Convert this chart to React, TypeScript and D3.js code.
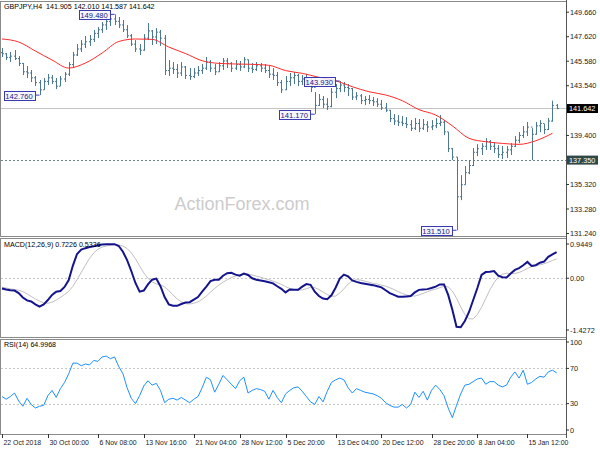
import React from "react";
import * as d3 from "d3";

// GBPJPY H4 bars (open = previous close)
const firstOpen = 146.3;
const high = [
  146.68, 146.26, 146.35, 146.51, 146.01, 145.43, 145.18, 144.85, 144.35, 144.02,
  144.18, 144.52, 144.43, 144.18, 144.35, 144.68, 145.51, 146.35, 147.01, 147.34,
  147.68, 147.76, 148.18, 148.43, 148.84, 149.18, 149.43, 149.48, 149.26, 149.01,
  148.59, 147.84, 147.34, 147.01, 147.84, 148.76, 148.18, 148.34, 148.18, 147.76,
  145.68, 145.51, 145.35, 145.51, 145.18, 145.01, 145.01, 145.18, 145.35, 145.93,
  145.68, 145.35, 145.51, 145.85, 145.85, 145.51, 145.68, 145.6, 145.93, 145.72,
  145.43, 145.51, 145.43, 145.35, 145.18, 145.01, 144.68, 144.02, 144.35, 144.6,
  144.68, 144.52, 144.43, 144.52, 144.25, 143.01, 142.85, 142.68, 142.51, 143.35,
  143.68, 143.93, 143.85, 143.68, 143.35, 143.01, 142.85, 142.68, 142.77, 142.6,
  142.51, 142.35, 142.1, 141.52, 141.18, 141.1, 141.01, 140.93, 140.68, 140.85,
  140.77, 140.77, 140.6, 140.68, 140.85, 141.1, 140.68, 139.68, 138.35, 137.6,
  136.1, 136.85, 137.35, 138.35, 138.68, 138.76, 139.18, 139.02, 138.85, 138.6,
  138.52, 138.52, 138.76, 139.35, 139.68, 140.18, 140.52, 140.01, 140.52, 140.68,
  140.35, 140.85, 142.3, 142.01,
];
const low = [
  145.93, 145.68, 145.51, 145.68, 145.18, 144.43, 144.18, 143.85, 143.51, 142.76,
  143.2, 143.6, 143.68, 143.26, 143.51, 143.85, 144.35, 145.01, 146.01, 146.35,
  146.68, 146.85, 147.18, 147.51, 147.93, 148.18, 148.51, 148.59, 148.34, 148.01,
  147.51, 146.85, 146.35, 146.1, 146.45, 147.34, 146.93, 147.01, 146.85, 144.43,
  144.35, 144.52, 144.18, 144.35, 144.1, 144.02, 144.18, 144.35, 144.52, 144.85,
  144.68, 144.43, 144.68, 144.85, 145.01, 144.68, 144.85, 144.77, 145.01, 144.68,
  144.6, 144.77, 144.68, 144.6, 144.18, 144.02, 143.51, 142.93, 143.18, 143.51,
  143.68, 143.51, 143.6, 143.68, 143.01, 141.17, 141.85, 141.68, 141.52, 141.75,
  142.51, 143.01, 143.01, 142.68, 142.35, 142.35, 142.01, 141.93, 142.01, 141.85,
  141.77, 141.52, 141.35, 140.52, 140.27, 140.18, 140.18, 140.01, 139.77, 139.85,
  139.68, 139.85, 139.68, 139.85, 140.01, 140.18, 139.43, 138.02, 137.35, 131.51,
  134.02, 135.3, 136.18, 136.85, 137.68, 137.77, 138.19, 138.19, 137.93, 137.52,
  137.43, 137.52, 137.77, 138.43, 138.76, 139.18, 139.35, 137.35, 139.45, 139.68,
  139.52, 139.85, 140.55, 141.587,
];
const close = [
  146.2, 145.9, 146.0, 145.8, 145.4, 144.7, 144.6, 144.2, 143.8, 143.2,
  143.9, 144.2, 143.9, 143.5, 144.1, 144.5, 145.3, 146.1, 146.6, 147.0,
  147.2, 147.4, 147.9, 148.2, 148.6, 148.9, 149.1, 148.9, 148.6, 148.2,
  147.7, 147.0, 146.6, 146.5, 147.5, 148.1, 147.6, 148.0, 147.5, 144.8,
  145.0, 144.9, 144.6, 145.1, 144.4, 144.3, 144.6, 144.8, 145.0, 145.5,
  145.0, 144.7, 145.2, 145.6, 145.4, 145.0, 145.3, 145.1, 145.7, 145.0,
  144.9, 145.2, 145.0, 144.8, 144.5, 144.4, 143.8, 143.2, 143.9, 144.2,
  144.4, 143.9, 144.1, 144.2, 143.4, 141.9, 142.4, 142.0, 141.8, 143.0,
  143.3, 143.6, 143.4, 143.3, 142.6, 142.7, 142.3, 142.4, 142.3, 142.2,
  142.0, 141.7, 141.5, 140.8, 140.6, 140.5, 140.4, 140.3, 140.0, 140.4,
  140.0, 140.3, 140.1, 140.2, 140.4, 140.5, 139.7, 138.3, 137.6, 134.3,
  135.3, 136.3, 136.9, 138.0, 138.3, 138.5, 138.9, 138.5, 138.3, 137.8,
  138.0, 138.2, 138.5, 139.0, 139.4, 139.7, 140.1, 139.5, 140.2, 140.4,
  139.9, 140.6, 141.905, 141.642,
];

// red moving average, sampled every 4th bar
const maStep = 4;
const maValues = [
  147.43, 147.18, 146.43, 145.68, 145.01, 145.43, 146.26, 147.22, 147.43, 147.4,
  146.76, 146.22, 145.62, 145.4, 145.35, 145.32, 145.24, 144.8, 144.57, 144.24,
  143.96, 143.46, 143.04, 142.77, 142.29, 141.55, 141.1, 140.2, 139.16, 138.88,
  138.74, 138.66, 138.96, 139.58,
];

const macdMain = [
  -0.28, -0.31, -0.33, -0.34, -0.41, -0.53, -0.61, -0.64, -0.72, -0.78,
  -0.72, -0.6, -0.46, -0.37, -0.35, -0.24, -0.05, 0.35, 0.67, 0.79,
  0.83, 0.86, 0.88, 0.91, 0.93, 0.94, 0.94, 0.94, 0.89, 0.73,
  0.5, 0.2, -0.13, -0.37, -0.34, -0.17, -0.04, -0.01, -0.22, -0.52,
  -0.72, -0.76, -0.76, -0.71, -0.67, -0.66, -0.59, -0.52, -0.37, -0.23,
  -0.08, -0.04, -0.04, 0.07, 0.14, 0.15, 0.1, 0.07, 0.13, 0.09,
  0.0, -0.04, -0.06, -0.08, -0.11, -0.14, -0.22, -0.29, -0.39, -0.31,
  -0.32, -0.32, -0.23, -0.16, -0.18, -0.37, -0.49, -0.56, -0.58, -0.47,
  -0.26, -0.01, 0.1, 0.05, -0.06, -0.1, -0.13, -0.15, -0.17, -0.19,
  -0.22, -0.25, -0.33, -0.41, -0.46, -0.51, -0.51, -0.5, -0.49, -0.39,
  -0.32, -0.31, -0.3, -0.27, -0.23, -0.17, -0.17, -0.46, -0.87, -1.34,
  -1.35, -1.18, -0.93, -0.6, -0.27, 0.09, 0.17, 0.18, 0.2, 0.07,
  0.03, 0.02, 0.13, 0.23, 0.28, 0.36, 0.45, 0.34, 0.36, 0.43,
  0.46, 0.59, 0.66, 0.7226,
];
const macdSignal = [
  -0.25, -0.27, -0.29, -0.31, -0.33, -0.37, -0.43, -0.5, -0.57, -0.63,
  -0.68, -0.69, -0.66, -0.6, -0.53, -0.45, -0.36, -0.22, -0.04, 0.16,
  0.36, 0.55, 0.7, 0.8, 0.86, 0.89, 0.91, 0.92, 0.92, 0.89,
  0.82, 0.7, 0.54, 0.34, 0.15, 0.0, -0.1, -0.16, -0.18, -0.24,
  -0.34, -0.46, -0.57, -0.65, -0.7, -0.71, -0.69, -0.65, -0.58, -0.49,
  -0.38, -0.28, -0.19, -0.11, -0.04, 0.02, 0.06, 0.09, 0.11, 0.11,
  0.09, 0.06, 0.03, -0.01, -0.04, -0.08, -0.12, -0.17, -0.23, -0.28,
  -0.31, -0.33, -0.32, -0.29, -0.25, -0.26, -0.31, -0.38, -0.45, -0.5,
  -0.49, -0.41, -0.29, -0.16, -0.07, -0.04, -0.05, -0.08, -0.11, -0.14,
  -0.16, -0.19, -0.22, -0.26, -0.31, -0.37, -0.42, -0.46, -0.49, -0.49,
  -0.46, -0.42, -0.37, -0.33, -0.3, -0.26, -0.22, -0.24, -0.35, -0.55,
  -0.79, -1.0, -1.12, -1.12, -1.0, -0.8, -0.56, -0.32, -0.12, 0.03,
  0.11, 0.14, 0.13, 0.13, 0.16, 0.21, 0.27, 0.32, 0.35, 0.37,
  0.4, 0.44, 0.49, 0.5336,
];

const rsiValues = [
  38, 35, 38, 42, 33, 27, 36, 29, 25, 27,
  28, 39, 45, 37, 47, 54, 64, 76, 76, 73,
  75, 74, 79, 78, 83, 84, 81, 83, 72, 64,
  48, 36, 30, 39, 50, 56, 51, 53, 45, 31,
  35, 36, 34, 37, 34, 31, 35, 38, 48, 60,
  57, 43, 52, 62, 57, 52, 47, 56, 60, 42,
  45, 47, 46, 44, 35, 45, 37, 31, 41, 45,
  48, 49, 44, 38, 32, 29, 38, 32, 44, 54,
  57, 59, 57, 48, 42, 47, 45, 43, 42, 41,
  39, 36, 31, 28, 26, 26, 29, 25, 29, 43,
  37, 44, 34, 45, 51, 46, 39, 25, 14, 28,
  41, 51, 52, 55, 58, 59, 52, 55, 55, 51,
  49, 51, 60, 66, 59, 68, 52, 54, 58, 61,
  60, 66, 68, 65,
];

const swingBars = [27, 9, 81, 75, 109];
const swingPrices = [149.48, 142.76, 143.93, 141.17, 131.51];

const priceTicks = [149.66, 147.62, 145.58, 143.54, 139.4, 135.32, 133.28, 131.24];
const lastPrice = 141.642;
const supportLevel = 137.35;
const macdTicks = [0.9449, 0, -1.4272];
const macdTickLabels = ["0.9449", "0.00", "-1.4272"];
const rsiTicks = [100, 70, 30, 0];
const rsiLevels = [70, 30];

const timeTickBars = [0, 11, 23, 34, 46, 57, 68, 80, 91, 103, 114, 126];
const timeTickLabels = [
  "22 Oct 2018", "30 Oct 00:00", "6 Nov 08:00", "13 Nov 16:00", "21 Nov 04:00",
  "28 Nov 12:00", "5 Dec 20:00", "13 Dec 04:00", "20 Dec 12:00", "28 Dec 20:00",
  "8 Jan 04:00", "15 Jan 12:00",
];

const W = 600;
const H = 450;
const plotRight = 566;
const font = "Liberation Sans, Arial, sans-serif";
const fs = 7.3;

const main = { top: 1, bottom: 236 };
const macdPanel = { top: 238, bottom: 337 };
const rsiPanel = { top: 339, bottom: 434 };

export default function App() {
  const x = d3.scaleLinear().domain([0, close.length - 1]).range([2, 556.6]);
  const py = d3.scaleLinear().domain([131.24, 149.66]).range([233.5, 12.2]);
  const my = d3.scaleLinear().domain([-1.4272, 0.9449]).range([330, 244]);
  const ry = d3.scaleLinear().domain([0, 100]).range([430, 342]);

  const maLine = d3
    .line<number>()
    .x((_, i) => x(Math.min(i * maStep, close.length - 1)))
    .y((d) => py(d))
    .curve(d3.curveMonotoneX);
  const macdPath = d3
    .line<number>()
    .x((_, i) => x(i))
    .y((d) => my(d));
  const rsiPath = d3
    .line<number>()
    .x((_, i) => x(i))
    .y((d) => ry(d));

  const barColor = "#4b7892";
  const boxBlue = "#3a3ab0";

  const panelRect = (p: { top: number; bottom: number }, key: string) => (
    <rect
      key={key}
      x={0.5}
      y={p.top + 0.5}
      width={plotRight}
      height={p.bottom - p.top}
      fill="none"
      stroke="#8a8a8a"
    />
  );

  return (
    <svg
      width={W}
      height={H}
      style={{ position: "absolute", left: 0, top: 0, background: "#fff" }}
      fontFamily={font}
    >
      <rect width={W} height={H} fill="#fff" />

      {/* watermark */}
      <text x={242} y={210} textAnchor="middle" fontSize={18} fill="#cccccc">
        ActionForex.com
      </text>

      {/* level lines */}
      <line x1={1} x2={plotRight} y1={py(lastPrice)} y2={py(lastPrice)} stroke="#c4c4c4" />
      <line
        x1={1}
        x2={plotRight}
        y1={Math.round(py(supportLevel)) + 0.5}
        y2={Math.round(py(supportLevel)) + 0.5}
        stroke="#6f8585"
        strokeDasharray="2,2"
      />

      {/* OHLC bars */}
      <g stroke={barColor} strokeWidth={1}>
        {close.map((c, i) => {
          const o = i === 0 ? firstOpen : close[i - 1];
          const bx = Math.round(x(i)) + 0.5;
          return (
            <g key={i}>
              <line x1={bx} x2={bx} y1={py(high[i])} y2={py(low[i])} />
              <line x1={bx - 1.5} x2={bx} y1={py(o)} y2={py(o)} />
              <line x1={bx} x2={bx + 1.5} y1={py(c)} y2={py(c)} />
            </g>
          );
        })}
      </g>

      {/* moving average */}
      <path d={maLine(maValues) || ""} fill="none" stroke="#ff2a2a" strokeWidth={1} />

      {/* header */}
      <text x={4} y={8.5} fontSize={7.1} fill="#000">
        GBPJPY,H4{"\u00a0\u00a0"}141.905 142.010 141.587 141.642
      </text>

      {/* swing labels */}
      {swingBars.map((b, k) => {
        const bx = x(b);
        const yy = py(swingPrices[k]);
        const bw = 31;
        const bh = 9;
        const right = bx - 5;
        const top = Math.max(Math.round(yy - bh / 2), 10);
        return (
          <g key={k}>
            <line x1={right} x2={bx} y1={yy} y2={yy} stroke={boxBlue} />
            <rect
              x={Math.round(right - bw) + 0.5}
              y={top + 0.5}
              width={bw}
              height={bh}
              fill="#f4f4ff"
              fillOpacity={0.85}
              stroke={boxBlue}
            />
            <text
              x={right - bw / 2}
              y={top + bh / 2 + 0.5}
              dy="0.36em"
              textAnchor="middle"
              fontSize={fs + 0.3}
              fill="#1a1a80"
            >
              {swingPrices[k].toFixed(3)}
            </text>
          </g>
        );
      })}

      {/* MACD panel */}
      <line
        x1={1}
        x2={plotRight}
        y1={Math.round(my(0)) + 0.5}
        y2={Math.round(my(0)) + 0.5}
        stroke="#c8c8c8"
        strokeDasharray="2,2"
      />
      <path d={macdPath(macdSignal) || ""} fill="none" stroke="#c0c0c0" strokeWidth={1} />
      <path d={macdPath(macdMain) || ""} fill="none" stroke="#14148c" strokeWidth={2} />
      <text x={4} y={247} fontSize={7.1} fill="#000">
        MACD(12,26,9) 0.7226 0.5336
      </text>

      {/* RSI panel */}
      {rsiLevels.map((l) => (
        <line
          key={l}
          x1={1}
          x2={plotRight}
          y1={Math.round(ry(l)) + 0.5}
          y2={Math.round(ry(l)) + 0.5}
          stroke="#c8c8c8"
          strokeDasharray="2,2"
        />
      ))}
      <path d={rsiPath(rsiValues) || ""} fill="none" stroke="#1e90ff" strokeWidth={1} />
      <text x={4} y={347} fontSize={7.1} fill="#000">
        RSI(14) 64.9968
      </text>

      {/* frames */}
      {panelRect(main, "m")}
      {panelRect(macdPanel, "d")}
      {panelRect(rsiPanel, "r")}
      <line x1={plotRight + 0.5} x2={plotRight + 0.5} y1={0} y2={rsiPanel.bottom + 4} stroke="#555" />

      {/* price axis */}
      {priceTicks.map((t) => (
        <g key={t}>
          <line x1={plotRight} x2={plotRight + 3} y1={py(t)} y2={py(t)} stroke="#333" />
          <text x={570} y={py(t)} dy="0.36em" fontSize={fs} fill="#222">
            {t.toFixed(3)}
          </text>
        </g>
      ))}
      <rect x={567} y={py(lastPrice) - 4.5} width={31} height={9} fill="#000" />
      <text x={569} y={py(lastPrice)} dy="0.36em" fontSize={fs} fill="#fff">
        {lastPrice.toFixed(3)}
      </text>
      <rect x={567} y={py(supportLevel) - 4.5} width={31} height={9} fill="#2f4747" />
      <text x={569} y={py(supportLevel)} dy="0.36em" fontSize={fs} fill="#fff">
        {supportLevel.toFixed(3)}
      </text>

      {/* MACD axis */}
      {macdTicks.map((t, k) => (
        <g key={k}>
          <line x1={plotRight} x2={plotRight + 3} y1={my(t)} y2={my(t)} stroke="#333" />
          <text x={570} y={my(t)} dy="0.36em" fontSize={fs} fill="#222">
            {macdTickLabels[k]}
          </text>
        </g>
      ))}

      {/* RSI axis */}
      {rsiTicks.map((t) => (
        <g key={t}>
          <line x1={plotRight} x2={plotRight + 3} y1={ry(t)} y2={ry(t)} stroke="#333" />
          <text x={570} y={ry(t)} dy="0.36em" fontSize={fs} fill="#222">
            {t}
          </text>
        </g>
      ))}

      {/* time axis */}
      {timeTickBars.map((b, k) => {
        const tx = Math.round(x(b)) + 0.5;
        return (
          <g key={k}>
            <line x1={tx} x2={tx} y1={rsiPanel.bottom} y2={rsiPanel.bottom + 4} stroke="#333" />
            <text x={tx + 1} y={445} fontSize={6.9} fill="#222">
              {timeTickLabels[k]}
            </text>
          </g>
        );
      })}
    </svg>
  );
}
